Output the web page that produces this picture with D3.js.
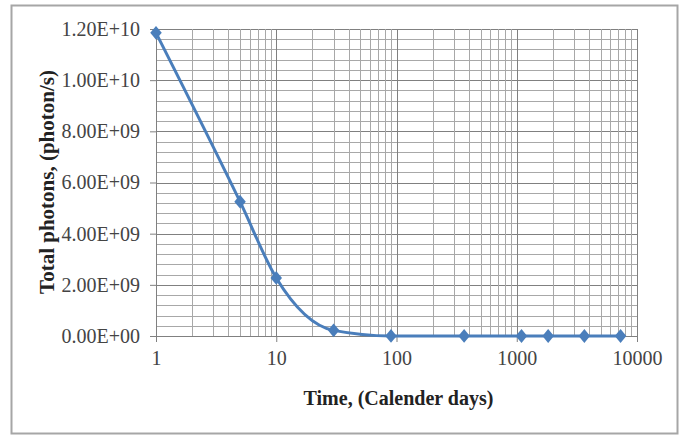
<!DOCTYPE html>
<html>
<head>
<meta charset="utf-8">
<script src="https://cdn.jsdelivr.net/npm/d3@7"></script>
<style>
  body { margin: 0; background: #fff; }
  svg { display: block; }
</style>
</head>
<body>
<div id="chart"></div>
<script>
// values
var days = [1, 5, 10, 30, 90, 365, 1095, 1825, 3650, 7300];
var photons = [1.185e10, 5.25e9, 2.27e9, 2.2e8, 4e6, 1e6, 5e5, 3e5, 2e5, 1e5];
var yTicks = [0, 2e9, 4e9, 6e9, 8e9, 1e10, 1.2e10];
var xTicks = [1, 10, 100, 1000, 10000];

var W = 684, H = 437;
var margin = {top: 29, right: 47, bottom: 101, left: 156},
    width = W - margin.left - margin.right,
    height = H - margin.top - margin.bottom;

var svg = d3.select("#chart").append("svg")
    .attr("width", W)
    .attr("height", H);

// outer chart frame
svg.append("rect")
    .attr("x", 11.5).attr("y", 5.5)
    .attr("width", 666).attr("height", 428)
    .style("fill", "#fff")
    .style("stroke", "#a6a6a6")
    .style("stroke-width", 2);

var g = svg.append("g")
    .attr("transform", "translate(" + margin.left + "," + margin.top + ")");

var x = d3.scaleLog().domain([1, 10000]).range([0, width]);
var y = d3.scaleLinear().domain([0, 1.2e10]).range([height, 0]);

// minor grid values
var xMinor = [];
for (var dec = 1; dec < 10000; dec *= 10) {
    for (var k = 1; k < 10; k++) xMinor.push(dec * k);
}
xMinor.push(10000);
var yMinor = d3.range(0, 1.2e10 + 1, 4e8);

g.append("g").selectAll("line").data(yMinor).enter().append("line")
    .attr("x1", 0).attr("x2", width)
    .attr("y1", function(d) { return Math.round(y(d)) + 0.5; })
    .attr("y2", function(d) { return Math.round(y(d)) + 0.5; })
    .style("stroke", function(d) { return d % 2e9 === 0 ? "#808080" : "#a8a8a8"; })
    .style("stroke-width", 1);

g.append("g").selectAll("line").data(xMinor).enter().append("line")
    .attr("y1", 0).attr("y2", height)
    .attr("x1", function(d) { return Math.round(x(d)) + 0.5; })
    .attr("x2", function(d) { return Math.round(x(d)) + 0.5; })
    .style("stroke", function(d) { return xTicks.indexOf(d) >= 0 ? "#808080" : "#a8a8a8"; })
    .style("stroke-width", 1);

function sci(v) {
    if (v === 0) return "0.00E+00";
    var e = Math.floor(Math.log10(v));
    var m = v / Math.pow(10, e);
    return m.toFixed(2) + "E+" + (e < 10 ? "0" + e : e);
}

var yAxis = g.append("g")
    .call(d3.axisLeft(y).tickValues(yTicks).tickFormat(sci).tickSizeInner(6).tickSizeOuter(0).tickPadding(10));

var xAxis = g.append("g")
    .attr("transform", "translate(0," + height + ")")
    .call(d3.axisBottom(x).tickValues(xTicks).tickFormat(d3.format("d")).tickSizeInner(6).tickSizeOuter(0).tickPadding(9));

[yAxis, xAxis].forEach(function(a) {
    a.select(".domain").style("stroke", "#808080");
    a.selectAll(".tick line").style("stroke", "#808080");
    a.selectAll("text")
        .style("font-family", "'Liberation Serif', 'Times New Roman', serif")
        .style("font-size", "20px")
        .style("fill", "#444");
});

var pts = days.map(function(d, i) { return [x(d), y(photons[i])]; });

g.append("path")
    .datum(pts)
    .style("fill", "none")
    .style("stroke", "#4a7ebb")
    .style("stroke-width", "3px")
    .attr("d", d3.line().curve(d3.curveMonotoneX));

g.selectAll(".pt").data(pts).enter().append("path")
    .attr("class", "pt")
    .attr("transform", function(p) { return "translate(" + p[0] + "," + p[1] + ") scale(1,1.2) rotate(45)"; })
    .attr("d", d3.symbol().type(d3.symbolSquare).size(66))
    .style("fill", "#4a7ebb");

// axis titles
svg.append("text")
    .attr("x", margin.left + width / 2 + 2)
    .attr("y", 405)
    .attr("text-anchor", "middle")
    .style("font-family", "'Liberation Serif', 'Times New Roman', serif")
    .style("font-weight", "bold")
    .style("font-size", "20px")
    .style("fill", "#222")
    .text("Time, (Calender days)");

svg.append("text")
    .attr("transform", "translate(54,182) rotate(-90)")
    .attr("text-anchor", "middle")
    .style("font-family", "'Liberation Serif', 'Times New Roman', serif")
    .style("font-weight", "bold")
    .style("font-size", "21px")
    .style("fill", "#222")
    .text("Total photons, (photon/s)");
</script>
</body>
</html>
